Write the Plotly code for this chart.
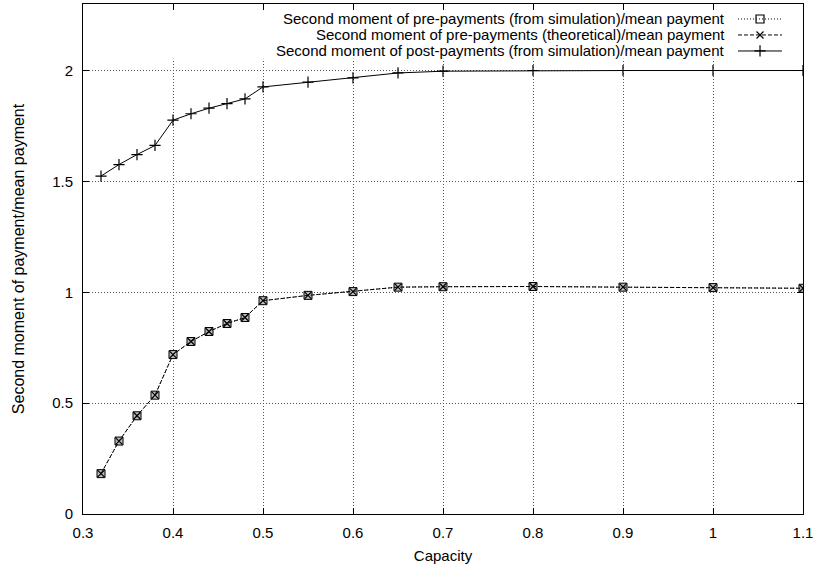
import plotly.graph_objects as go

# ---- data ----
capacity = [0.32, 0.34, 0.36, 0.38, 0.40, 0.42, 0.44, 0.46, 0.48, 0.50,
            0.55, 0.60, 0.65, 0.70, 0.80, 0.90, 1.00, 1.10]
pre_sim = [0.182, 0.329, 0.443, 0.536, 0.719, 0.778, 0.823, 0.859, 0.886, 0.962,
           0.986, 1.003, 1.023, 1.025, 1.026, 1.023, 1.021, 1.018]
pre_theory = [0.182, 0.329, 0.443, 0.536, 0.719, 0.778, 0.823, 0.859, 0.886, 0.962,
              0.986, 1.003, 1.023, 1.025, 1.026, 1.023, 1.021, 1.018]
post_sim = [1.524, 1.576, 1.621, 1.662, 1.776, 1.805, 1.830, 1.851, 1.872, 1.926,
            1.948, 1.967, 1.989, 1.997, 2.0, 2.0, 2.0, 2.0]

legend_labels = [
    "Second moment of pre-payments (from simulation)/mean payment",
    "Second moment of pre-payments (theoretical)/mean payment",
    "Second moment of post-payments (from simulation)/mean payment",
]
x_ticks = [0.3, 0.4, 0.5, 0.6, 0.7, 0.8, 0.9, 1.0, 1.1]
x_tick_text = ["0.3", "0.4", "0.5", "0.6", "0.7", "0.8", "0.9", "1", "1.1"]
y_ticks = [0, 0.5, 1, 1.5, 2]
y_tick_text = ["0", "0.5", "1", "1.5", "2"]

FONT = "Liberation Sans, Arial, Helvetica, sans-serif"
FS = 15

fig = go.Figure()

# data traces
fig.add_trace(go.Scatter(
    x=capacity, y=pre_sim, mode="lines+markers", name=legend_labels[0],
    line=dict(color="black", width=1, dash="1px,2px"),
    marker=dict(symbol="square", size=8, color="#bdbdbd",
                line=dict(color="black", width=1)),
    showlegend=False))
fig.add_trace(go.Scatter(
    x=capacity, y=pre_theory, mode="lines+markers", name=legend_labels[1],
    line=dict(color="black", width=1, dash="4px,2px"),
    marker=dict(symbol="x-thin-open", size=7, color="black",
                line=dict(color="black", width=1.2)),
    showlegend=False))
fig.add_trace(go.Scatter(
    x=capacity, y=post_sim, mode="lines+markers", name=legend_labels[2],
    line=dict(color="black", width=1),
    marker=dict(symbol="cross-thin-open", size=8, color="black",
                line=dict(color="black", width=1.2)),
    showlegend=False))

# ---- custom gnuplot-style key (text right, sample to the right) ----
key_rows = [0.9706, 0.9393, 0.9079]
key_dash = ["1px,2px", "4px,2px", "solid"]
key_sym = ["square-open", "x-thin-open", "cross-thin-open"]
key_size = [8, 7, 8]
for i, lab in enumerate(legend_labels):
    fig.add_annotation(xref="paper", yref="paper", x=0.8944, y=key_rows[i],
                       text=lab, showarrow=False, xanchor="right", yanchor="middle",
                       font=dict(family=FONT, size=FS, color="black"))
    fig.add_trace(go.Scatter(
        x=[0.9097, 0.9708], y=[key_rows[i], key_rows[i]], mode="lines",
        line=dict(color="black", width=1, dash=key_dash[i]),
        xaxis="x2", yaxis="y2", showlegend=False, hoverinfo="skip"))
    fig.add_trace(go.Scatter(
        x=[0.9403], y=[key_rows[i]], mode="markers",
        marker=dict(symbol=key_sym[i], size=key_size[i], color="black",
                    line=dict(color="black", width=1.2)),
        xaxis="x2", yaxis="y2", showlegend=False, hoverinfo="skip"))

# blank out grid behind key area
fig.add_shape(type="rect", xref="x", yref="y", x0=0.3, x1=1.1, y0=2.053, y1=2.3,
              fillcolor="white", line=dict(width=0), layer="between")

axis_common = dict(
    showline=True, linecolor="black", linewidth=1, mirror="ticks",
    ticks="inside", ticklen=6, tickcolor="black", tickwidth=1,
    showgrid=True, gridcolor="#555", gridwidth=1, griddash="1px,2px",
    zeroline=False, tickfont=dict(family=FONT, size=FS, color="black"),
)

fig.update_layout(
    width=817, height=571,
    margin=dict(l=83, r=14, t=4, b=57),
    paper_bgcolor="white", plot_bgcolor="white",
    font=dict(family=FONT, size=FS, color="black"),
    showlegend=False,
    xaxis=dict(range=[0.3, 1.1], tickvals=x_ticks, ticktext=x_tick_text,
               ticklabelstandoff=5,
               title=dict(text="Capacity", font=dict(family=FONT, size=FS), standoff=10),
               **axis_common),
    yaxis=dict(range=[0, 2.3], tickvals=y_ticks, ticktext=y_tick_text,
               ticklabelstandoff=6,
               title=dict(text="Second moment of payment/mean payment",
                          font=dict(family=FONT, size=16), standoff=23),
               **axis_common),
    xaxis2=dict(overlaying="x", range=[0, 1], visible=False, domain=[0, 1], anchor="y2"),
    yaxis2=dict(overlaying="y", range=[0, 1], visible=False, anchor="x2"),
)

fig.write_html("out.html", config={"displayModeBar": False},
               post_script="document.body.style.margin='0';document.body.style.padding='0';document.body.style.overflow='hidden';")
